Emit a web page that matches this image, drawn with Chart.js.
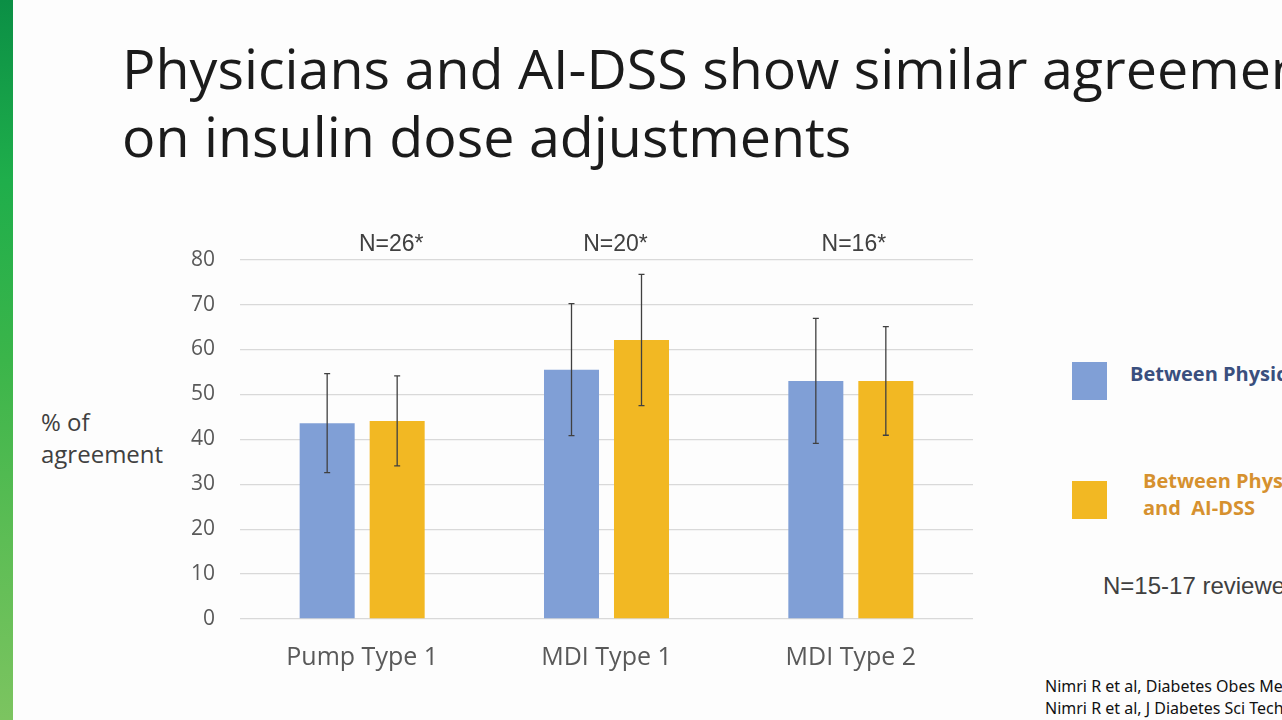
<!DOCTYPE html>
<html>
<head>
<meta charset="utf-8">
<script src="https://cdn.jsdelivr.net/npm/chart.js@4.4.1/dist/chart.umd.min.js"></script>
<style>
    html, body { margin: 0; padding: 0; }
    body {
        width: 1282px; height: 720px; overflow: hidden; position: relative;
        background: #fdfdfd; font-family: "Open Sans", sans-serif;
    }
    .strip {
        position: absolute; left: 0; top: 0; width: 13px; height: 720px;
        background: linear-gradient(180deg, #0b8f45 0%, #1fae4b 25%, #3bb54a 50%, #5dbd55 75%, #7cc460 100%);
    }
    .title {
        position: absolute; left: 122px; top: 34px; white-space: nowrap;
        font-size: 55.6px; line-height: 68px; color: #1b1b1b;
    }
    .ylabel {
        position: absolute; left: 41px; top: 406px;
        font-size: 24px; line-height: 32px; color: #404040;
    }
    #chartBox { position: absolute; left: 170px; top: 222px; width: 820px; height: 463px; }
    .sw { position: absolute; left: 1072px; width: 35px; height: 38px; }
    .lg { position: absolute; font-weight: 700; font-size: 20px; line-height: 27px; white-space: nowrap; }
    .note { position: absolute; left: 1103px; top: 572px; font-family: "Liberation Sans", Arial, sans-serif; font-size: 24px; color: #404040; white-space: nowrap; }
    .ref { position: absolute; left: 1045px; top: 675px; font-family: "Noto Sans", sans-serif; font-size: 16px; line-height: 22px; color: #111; white-space: nowrap; }
</style>
</head>
<body>
<div class="strip"></div>
<div class="title">Physicians and AI-DSS show similar agreement<br>on insulin dose adjustments</div>
<div class="ylabel">% of<br>agreement</div>
<div id="chartBox"><canvas id="agreeChart"></canvas></div>

<div class="sw" style="top:362px;background:#809fd6"></div>
<div class="lg" style="left:1130px;top:360px;color:#3a4f7e">Between Physicians</div>
<div class="sw" style="top:481px;background:#f2b823"></div>
<div class="lg" style="left:1143px;top:467px;color:#d6912f">Between Physicians<br>and&nbsp; AI-DSS</div>
<div class="note">N=15-17 reviewers</div>
<div class="ref">Nimri R et al, Diabetes Obes Metab<br>Nimri R et al, J Diabetes Sci Technol</div>

<script>
// ---- data ----
const categories = ['Pump Type 1', 'MDI Type 1', 'MDI Type 2'];
const groupSizes = ['N=26*', 'N=20*', 'N=16*'];
const seriesNames = ['Between Physicians', 'Between Physicians and AI-DSS'];
const physicianAgreement = [43.6, 55.5, 53.0];
const physicianError = [11.0, 14.7, 13.9];
const aiDssAgreement = [44.1, 62.1, 53.0];
const aiDssError = [10.0, 14.6, 12.1];
const yTicks = [0, 10, 20, 30, 40, 50, 60, 70, 80];

const errorArrays = [physicianError, aiDssError];

// error bars drawn from each bar's own position and the y scale
const errorBarPlugin = {
    id: 'errorBars',
    afterDatasetsDraw(chart) {
        const ctx = chart.ctx;
        const yScale = chart.scales.y;
        ctx.save();
        ctx.strokeStyle = '#404040';
        ctx.lineWidth = 1.3;
        chart.data.datasets.forEach((ds, di) => {
            const meta = chart.getDatasetMeta(di);
            meta.data.forEach((bar, i) => {
                const v = ds.data[i];
                const e = errorArrays[di][i];
                const top = yScale.getPixelForValue(v + e);
                const bottom = yScale.getPixelForValue(v - e);
                ctx.beginPath();
                ctx.moveTo(bar.x, top);
                ctx.lineTo(bar.x, bottom);
                ctx.moveTo(bar.x - 3, top);
                ctx.lineTo(bar.x + 3, top);
                ctx.moveTo(bar.x - 3, bottom);
                ctx.lineTo(bar.x + 3, bottom);
                ctx.stroke();
            });
        });
        ctx.restore();
    }
};

// group size labels above each category (text boxes sit a little right of centre on the slide)
const labelNudge = [29, 9, 3];
const groupLabelPlugin = {
    id: 'groupLabels',
    afterDraw(chart) {
        const ctx = chart.ctx;
        const xScale = chart.scales.x;
        ctx.save();
        ctx.font = '23px "Liberation Sans", Arial, sans-serif';
        ctx.fillStyle = '#404040';
        ctx.textAlign = 'center';
        ctx.textBaseline = 'middle';
        groupSizes.forEach((label, i) => {
            ctx.fillText(label, xScale.getPixelForValue(i) + labelNudge[i], chart.chartArea.top - 15);
        });
        ctx.restore();
    }
};

new Chart(document.getElementById('agreeChart'), {
    type: 'bar',
    data: {
        labels: categories,
        datasets: [{
            label: seriesNames[0],
            data: physicianAgreement,
            backgroundColor: '#809fd6',
            categoryPercentage: 0.573,
            barPercentage: 0.786
        }, {
            label: seriesNames[1],
            data: aiDssAgreement,
            backgroundColor: '#f2b823',
            categoryPercentage: 0.573,
            barPercentage: 0.786
        }]
    },
    options: {
        responsive: true,
        maintainAspectRatio: false,
        animation: false,
        layout: {
            padding: { top: 32, right: 17, bottom: 0, left: 0 }
        },
        plugins: {
            legend: { display: false },
            tooltip: { enabled: false }
        },
        scales: {
            x: {
                grid: { display: false },
                border: { display: false },
                ticks: {
                    color: '#595959',
                    padding: 16,
                    font: { family: '"Open Sans", sans-serif', size: 25 }
                },
                afterFit: scale => { scale.height = 66; }
            },
            y: {
                min: 0,
                max: 80,
                afterBuildTicks: scale => { scale.ticks = yTicks.map(v => ({ value: v })); },
                grid: { color: '#d9d9d9', lineWidth: 1.3, drawTicks: false },
                border: { display: false },
                ticks: {
                    color: '#595959',
                    padding: 25,
                    font: { family: '"Open Sans", sans-serif', size: 21 }
                },
                afterFit: scale => { scale.width = 70; }
            }
        }
    },
    plugins: [errorBarPlugin, groupLabelPlugin]
});
</script>
</body>
</html>
